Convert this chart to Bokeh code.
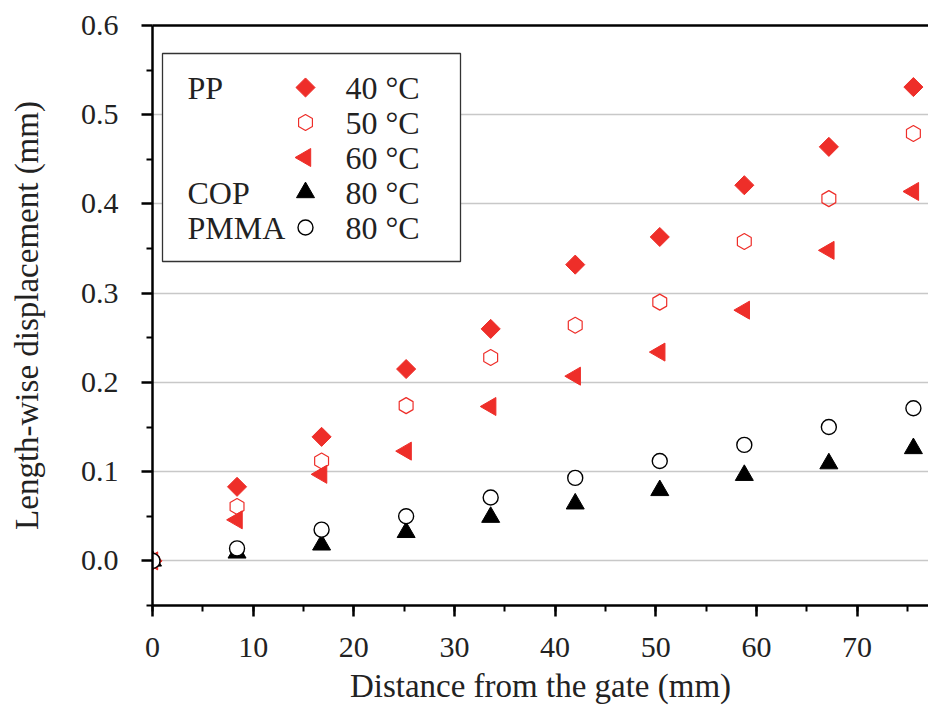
import math
from bokeh.plotting import figure
from bokeh.models import Range1d, LinearAxis, FixedTicker, SingleIntervalTicker
from bokeh.embed import file_html
from bokeh.resources import INLINE
from bokeh.core.properties import value

# ---- data ----
distance = [0, 8.4, 16.8, 25.2, 33.6, 42.0, 50.4, 58.8, 67.2, 75.6]
pp_40 = [0, 0.083, 0.139, 0.215, 0.260, 0.332, 0.363, 0.421, 0.464, 0.531]
pp_50 = [0, 0.061, 0.112, 0.174, 0.228, 0.264, 0.290, 0.358, 0.406, 0.479]
pp_60 = [0, 0.046, 0.097, 0.123, 0.173, 0.207, 0.234, 0.281, 0.348, 0.414]
cop_80 = [0, 0.009, 0.018, 0.032, 0.049, 0.064, 0.079, 0.096, 0.109, 0.126]
pmma_80 = [0, 0.014, 0.035, 0.050, 0.071, 0.093, 0.112, 0.130, 0.150, 0.171]

y_ticks = [0.0, 0.1, 0.2, 0.3, 0.4, 0.5, 0.6]
y_tick_labels = ["0.0", "0.1", "0.2", "0.3", "0.4", "0.5", "0.6"]
y_minor_ticks = [-0.05, 0.05, 0.15, 0.25, 0.35, 0.45, 0.55]

legend_materials = ["PP", "", "", "COP", "PMMA"]
legend_temps = ["40 °C", "50 °C", "60 °C", "80 °C", "80 °C"]

x_title = "Distance from the gate (mm)"
y_title = "Length-wise displacement (mm)"

# ---- style ----
FONT = "Liberation Serif"
RED = "#EE2E29"
TXT = "#222222"

W, H = 928, 706
FL, FR, FT, FB = 152, 928, 25, 605  # frame edges in pixels

p = figure(width=W, height=H, output_backend="svg", toolbar_location=None,
           x_range=Range1d(0, 77.1), y_range=Range1d(-0.05, 0.6),
           min_border_left=FL, min_border_right=W - FR, min_border_top=FT,
           min_border_bottom=H - FB,
           x_axis_label=x_title, y_axis_label=y_title)
p.outline_line_color = None
p.background_fill_color = "white"
p.border_fill_color = "white"

# pixel-space ranges for the legend block
p.extra_x_ranges = {"px": Range1d(FL, FR)}
p.extra_y_ranges = {"py": Range1d(FB, FT)}

# axes
p.xaxis.ticker = SingleIntervalTicker(interval=10, num_minor_ticks=2)
p.yaxis.ticker = FixedTicker(ticks=y_ticks, minor_ticks=y_minor_ticks)
p.yaxis.major_label_overrides = {t: s for t, s in zip(y_ticks, y_tick_labels)}

for ax in (p.xaxis[0], p.yaxis[0]):
    ax.axis_line_color = "black"
    ax.axis_line_width = 2.5
    ax.major_tick_in = 0
    ax.major_tick_out = 11
    ax.minor_tick_in = 0
    ax.minor_tick_out = 6
    ax.major_tick_line_width = 2.5
    ax.minor_tick_line_width = 2
    ax.major_tick_line_color = "black"
    ax.minor_tick_line_color = "black"
    ax.major_label_text_font = FONT
    ax.major_label_text_font_size = "30px"
    ax.major_label_text_color = TXT
    ax.axis_label_text_font = FONT
    ax.axis_label_text_font_size = "33px"
    ax.axis_label_text_font_style = "normal"
    ax.axis_label_text_color = TXT

p.xaxis.major_label_standoff = 21
p.xaxis.axis_label_standoff = 8
p.yaxis.major_label_standoff = 23
p.yaxis.axis_label_standoff = 33

top_axis = LinearAxis(ticker=FixedTicker(ticks=[]), axis_line_width=2.5,
                      axis_line_color="black", major_tick_line_color=None,
                      minor_tick_line_color=None, major_label_text_font_size="0px")
p.add_layout(top_axis, "above")

p.xgrid.grid_line_color = None
p.ygrid.grid_line_color = "#c8c8c8"
p.ygrid.grid_line_width = 1.5

# ---- legend frame (pixel space) ----
p.quad(left=[162], right=[460], top=[53], bottom=[261], x_range_name="px", y_range_name="py",
       fill_color="white", line_color="#333333", line_width=1.3)

# ---- series ----
styles = [
    dict(marker="square", angle=math.pi / 4, size=13.5, fill_color=RED, line_color=RED, line_width=1),
    dict(marker="hex", angle=math.pi / 2, size=16, fill_color=None, line_color=RED, line_width=1.2),
    dict(marker="triangle", angle=math.pi / 2, size=18, fill_color=RED, line_color=RED, line_width=1),
    dict(marker="triangle", angle=0, size=18, fill_color="black", line_color="black", line_width=1),
    dict(marker="circle", angle=0, size=15, fill_color="white", line_color="black", line_width=1.4),
]
series = [pp_40, pp_50, pp_60, cop_80, pmma_80]

for ys, st in zip(series, styles):
    p.scatter(x=distance, y=ys, **st)

# legend entries in pixel space
row_y = [87, 122, 157, 192, 227]
for i, st in enumerate(styles):
    p.scatter(x=[305], y=[row_y[i]], x_range_name="px", y_range_name="py", **st)
p.text(x=[187] * 5, y=row_y, text=legend_materials, x_range_name="px", y_range_name="py",
       text_font=value(FONT), text_font_size="32px", text_color=TXT,
       text_baseline="middle", text_align="left")
p.text(x=[345] * 5, y=row_y, text=legend_temps, x_range_name="px", y_range_name="py",
       text_font=value(FONT), text_font_size="32px", text_color=TXT,
       text_baseline="middle", text_align="left")

open("out.html", "w").write(file_html(p, INLINE))
